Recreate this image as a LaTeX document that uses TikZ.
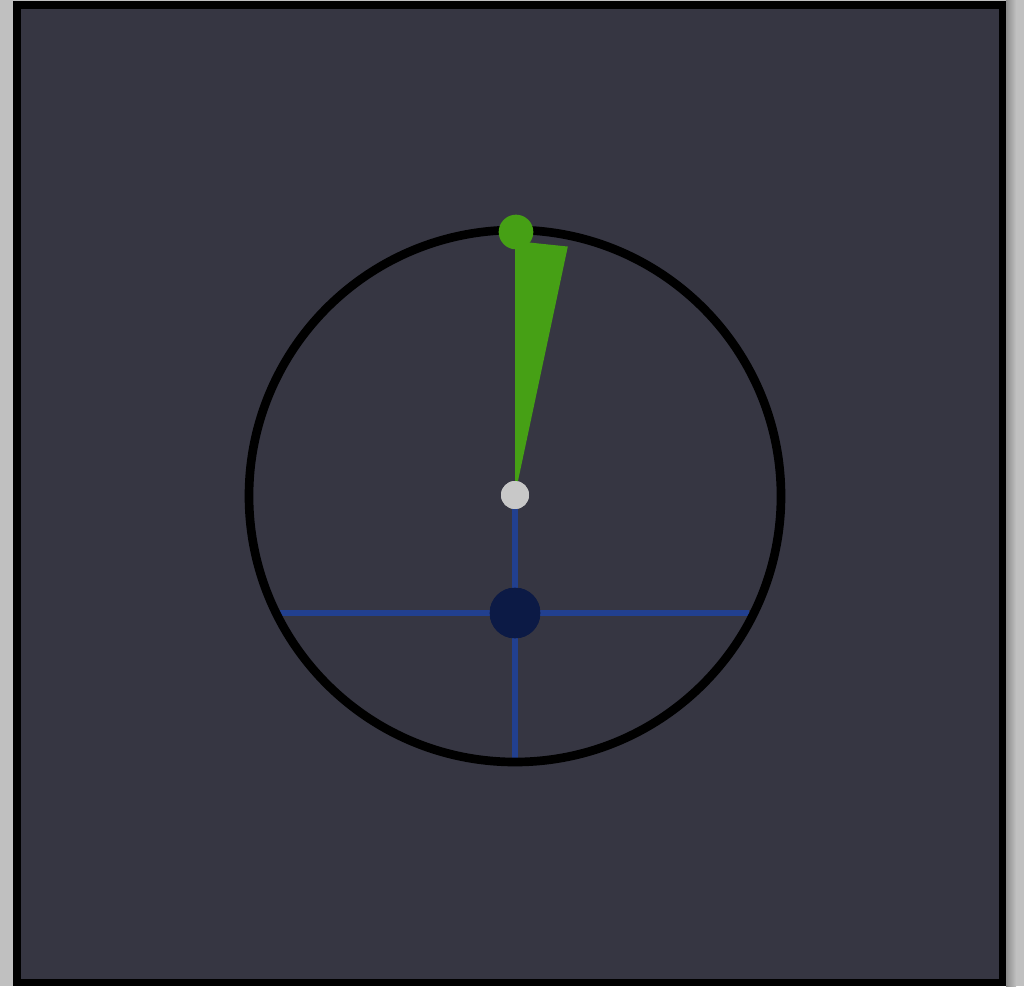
\documentclass[tikz,border=0pt]{standalone}
\usetikzlibrary{positioning}
\definecolor{paper}{HTML}{C0C0C0}
\definecolor{panel}{HTML}{363642}
\definecolor{rodblue}{HTML}{22408F}
\definecolor{bobnavy}{HTML}{0C1A45}
\definecolor{leaf}{HTML}{46A015}
\definecolor{hubgray}{HTML}{C8C8C8}

\begin{document}
\begin{tikzpicture}[
  x=0.75pt, y=-0.75pt, % one unit = one pixel, y going down
  dot/.style={circle, inner sep=0pt, draw=none},
  rod/.style={draw=rodblue, line width=4.2pt},
  rim/.style={circle, inner sep=0pt, draw=black, line width=6.5pt, minimum size=399pt}
]
\useasboundingbox (0,0) rectangle (1024,986);

% Paper, shadow and frame
\fill[paper] (0,0) rectangle (1024,986);
\shade[left color=black!45, right color=paper] (1006,0) rectangle (1016,986);
\fill[black] (12.7,1) rectangle (1006,986);
\fill[panel] (20.7,9) rectangle (998.7,978.7);

% Pivot and bob
\node[dot, fill=hubgray, minimum size=21pt] (hub) at (515,495) {};
\node[dot, fill=bobnavy, minimum size=38pt] (bob) at (515,613) {};

% Cross hair
\draw[rod] (bob.center) +(-236,0) -- +(234,0);
\draw[rod] (hub.center) -- (515,760);

% Ring
\node[rim] (ring) at (515,496) {};

% Sweep
\fill[leaf] (hub.center) -- +(-90:254) -- +(-78:254) -- cycle;
\node[dot, fill=leaf, minimum size=26pt] (tip) at (516,232) {};

% dots on top
\node[dot, fill=hubgray, minimum size=21pt] at (hub) {};
\node[dot, fill=bobnavy, minimum size=38pt] at (bob) {};

\end{tikzpicture}
\end{document}
